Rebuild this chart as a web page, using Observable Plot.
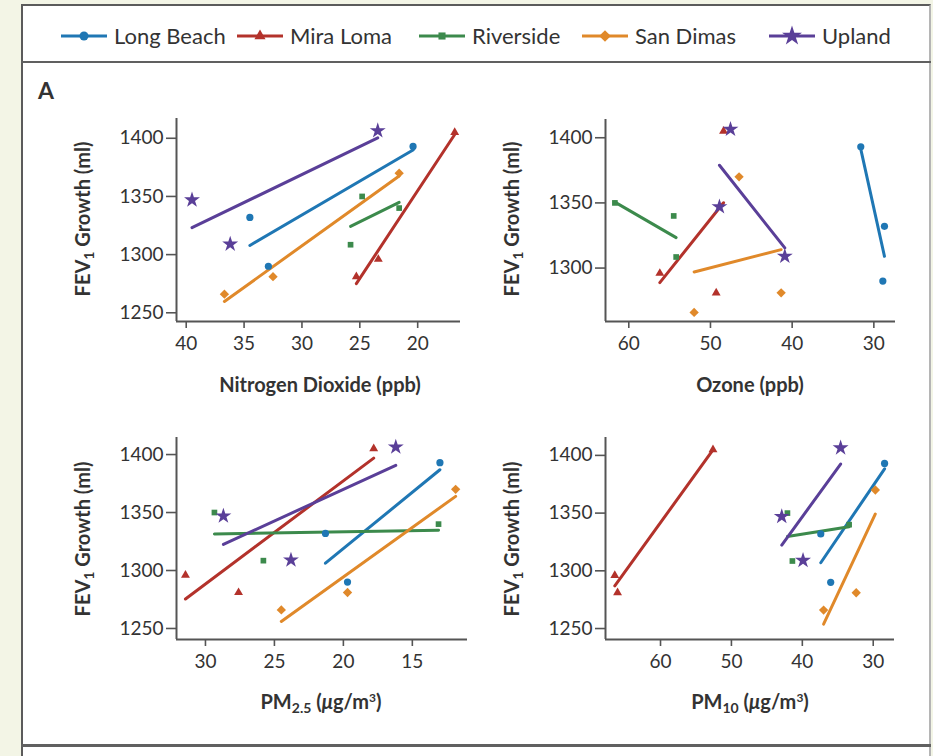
<!DOCTYPE html>
<html><head><meta charset="utf-8">
<script src="https://cdn.jsdelivr.net/npm/d3@7"></script>
<script src="https://cdn.jsdelivr.net/npm/@observablehq/plot@0.6"></script>
<style>
html,body{margin:0;padding:0;background:#f3f5e6;}
body{width:933px;height:756px;overflow:hidden;position:relative;font-family:Lato,"Open Sans",sans-serif;color:#333;}
.abs{position:absolute;}
#frame{left:21px;top:4px;width:910px;height:800px;box-sizing:border-box;background:#fff;border:2px solid #5b5b5b;border-right-color:#b5b5b5;border-bottom:none;}
.sep{left:21px;width:910px;background:#606060;}
.leg{top:22px;display:flex;align-items:center;font-size:22px;white-space:nowrap;}
.leg svg{margin-right:6px;}
.xt{font-weight:bold;font-size:20px;transform:translate(-50%,-50%);white-space:nowrap;}
.yt{font-weight:bold;font-size:20px;transform:translate(-50%,-50%) rotate(-90deg);white-space:nowrap;}
sub{font-size:0.7em;vertical-align:-0.3em;line-height:0;}
sup{font-size:0.6em;vertical-align:0.6em;line-height:0;}
.panel{position:absolute;}
</style></head>
<body>
<div id="frame" class="abs"></div>
<div class="abs sep" style="top:61px;height:2px;"></div>
<div class="abs sep" style="top:744px;height:3px;"></div>
<div class="abs" style="left:38px;top:76px;font-weight:bold;font-size:23px;">A</div>
<div id="root"></div>
<script>
// ---- data ----
const cities = ["Long Beach", "Mira Loma", "Riverside", "San Dimas", "Upland"];
// FEV1 growth (ml), three cohorts per community
const fev = [
  [1332, 1290, 1393],
  [1281, 1296, 1405],
  [1350, 1308.5, 1340],
  [1266, 1281, 1370],
  [1347, 1309, 1406.5]
];
const no2 = [
  [34.5, 32.9, 20.4],
  [25.3, 23.4, 16.8],
  [24.8, 25.8, 21.6],
  [36.7, 32.5, 21.6],
  [39.5, 36.2, 23.45]
];
const ozone = [
  [28.7, 28.9, 31.6],
  [49.3, 56.2, 48.4],
  [61.7, 54.2, 54.5],
  [52.0, 41.35, 46.5],
  [48.9, 40.9, 47.55]
];
const pm25 = [
  [21.3, 19.7, 13.0],
  [27.6, 31.45, 17.8],
  [29.35, 25.8, 13.1],
  [24.5, 19.7, 11.86],
  [28.7, 23.8, 16.2]
];
const pm10 = [
  [37.4, 36.0, 28.4],
  [66.06, 66.45, 52.6],
  [42.1, 41.4, 33.4],
  [37.0, 32.4, 29.7],
  [42.9, 39.9, 34.6]
];
const fevTicks = [1250, 1300, 1350, 1400];
const no2Ticks = [40, 35, 30, 25, 20];
const ozoneTicks = [60, 50, 40, 30];
const pm25Ticks = [30, 25, 20, 15];
const pm10Ticks = [60, 50, 40, 30];

// ---- styles ----
const colors = ["#1f77b4", "#b3322b", "#3c8a4c", "#e0892a", "#5a3f98"];
const symbols = ["circle", "triangle", "square", "diamond2", "star"];
const radii = [3.6, 3.3, 3.2, 4.2, 5.0];

// ---- legend ----
const legLefts = [60, 236, 418, 581, 768];
cities.forEach((c, i) => {
  const d = document.createElement("div");
  d.className = "abs leg";
  d.style.left = legLefts[i] + "px";
  const sw = d3.create("svg").attr("width", 48).attr("height", 24);
  sw.append("line").attr("x1", 1).attr("x2", 47).attr("y1", 12).attr("y2", 12)
    .attr("stroke", colors[i]).attr("stroke-width", 3);
  const symMap = {circle: d3.symbolCircle, triangle: d3.symbolTriangle, square: d3.symbolSquare, diamond2: d3.symbolDiamond2, star: d3.symbolStar};
  const r = radii[i] * 1.25;
  sw.append("path").attr("transform", "translate(24,12)")
    .attr("d", d3.symbol(symMap[symbols[i]], Math.PI * r * r)()).attr("fill", colors[i]);
  d.appendChild(sw.node());
  const t = document.createElement("span");
  t.textContent = c;
  d.appendChild(t);
  document.body.appendChild(d);
});

// ---- panels ----
function rows(xs) {
  const out = [];
  cities.forEach((c, i) => xs[i].forEach((v, j) => out.push({city: c, ci: i, x: v, y: fev[i][j]})));
  return out;
}

function panel(cfg) {
  const {xs, xDomain, yDomain, xTicks, yTicks, left, top, fl, ft, fr, fb} = cfg;
  const data = rows(xs);
  const mr = 14, mb = 50;
  const chart = Plot.plot({
    width: fr - left + mr,
    height: fb - top + mb,
    marginLeft: fl - left,
    marginTop: ft - top,
    marginRight: mr,
    marginBottom: mb,
    style: {fontFamily: "Lato, 'Open Sans', sans-serif", fontSize: "19px", color: "#333", background: "transparent", overflow: "visible"},
    x: {domain: xDomain},
    y: {domain: yDomain},
    marks: [
      Plot.axisX({ticks: xTicks, tickSize: 7, tickPadding: 8, label: null, stroke: "#555", strokeWidth: 1.6, tickFormat: d3.format("d")}),
      Plot.axisY({ticks: yTicks, tickSize: 10, tickPadding: 3, label: null, stroke: "#555", strokeWidth: 1.6, tickFormat: d3.format("d")}),
      Plot.ruleX([xDomain[0]], {stroke: "#555", strokeWidth: 2}),
      Plot.ruleY([yDomain[0]], {stroke: "#555", strokeWidth: 2}),
      ...cities.map((c, i) => Plot.linearRegressionY(data.filter(d => d.ci === i), {x: "x", y: "y", ci: 0, stroke: colors[i], strokeWidth: 3})),
      ...cities.map((c, i) => Plot.dot(data.filter(d => d.ci === i), {x: "x", y: "y", symbol: symbols[i], r: radii[i], fill: colors[i], stroke: "none"}))
    ]
  });
  chart.classList.add("panel");
  chart.style.left = left + "px";
  chart.style.top = top + "px";
  document.getElementById("root").appendChild(chart);
}

panel({xs: no2, xDomain: [40.84, 16.3], yDomain: [1242.5, 1417], xTicks: no2Ticks, yTicks: fevTicks,
  left: 100, top: 100, fl: 176, ft: 118, fr: 460, fb: 321});
panel({xs: ozone, xDomain: [62.85, 27.35], yDomain: [1259, 1414], xTicks: ozoneTicks, yTicks: fevTicks.slice(1),
  left: 520, top: 100, fl: 605, ft: 119, fr: 895, fb: 321});
panel({xs: pm25, xDomain: [32.1, 11.0], yDomain: [1240.5, 1414.7], xTicks: pm25Ticks, yTicks: fevTicks,
  left: 100, top: 420, fl: 176, ft: 437, fr: 467, fb: 639});
panel({xs: pm10, xDomain: [67.76, 27.0], yDomain: [1240.5, 1415.5], xTicks: pm10Ticks, yTicks: fevTicks,
  left: 520, top: 420, fl: 605, ft: 437, fr: 894, fb: 639});

// ---- axis titles ----
const titles = [
  {cls: "xt", x: 320, y: 384, html: "Nitrogen Dioxide (ppb)"},
  {cls: "xt", x: 750, y: 384, html: "Ozone (ppb)"},
  {cls: "xt", x: 321, y: 701, html: "PM<sub>2.5</sub> (<i>\u03bc</i>g/m<sup>3</sup>)"},
  {cls: "xt", x: 750, y: 701, html: "PM<sub>10</sub> (<i>\u03bc</i>g/m<sup>3</sup>)"},
  {cls: "yt", x: 82, y: 219, html: "FEV<sub>1</sub> Growth (ml)"},
  {cls: "yt", x: 511, y: 219, html: "FEV<sub>1</sub> Growth (ml)"},
  {cls: "yt", x: 82, y: 539, html: "FEV<sub>1</sub> Growth (ml)"},
  {cls: "yt", x: 511, y: 539, html: "FEV<sub>1</sub> Growth (ml)"}
];
titles.forEach(t => {
  const d = document.createElement("div");
  d.className = "abs " + t.cls;
  d.style.left = t.x + "px";
  d.style.top = t.y + "px";
  d.innerHTML = t.html;
  document.body.appendChild(d);
});
</script>
</body></html>
